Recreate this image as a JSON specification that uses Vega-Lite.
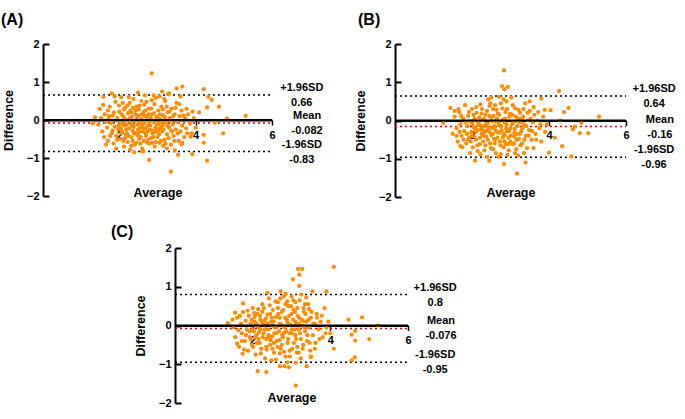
{
"$schema":"https://vega.github.io/schema/vega-lite/v6.json",
"background":"white",
"padding":{"left":1,"top":12,"right":0,"bottom":0},
"config":{
 "view":{"stroke":null},
 "font":"Liberation Sans",
 "axis":{"domainColor":"black","domainWidth":2,"tickColor":"black","labelFontWeight":"bold","labelFontSize":11,"labelColor":"black","titleFontWeight":"bold","titleFontSize":12.5,"titleColor":"black","grid":false,"labelFlush":false,"labelOverlap":false},
 "axisY":{"tickWidth":2,"titlePadding":11},
 "axisX":{"tickSize":5,"tickWidth":1.5,"labelPadding":4,"titlePadding":46},
 "text":{"fontWeight":"bold","fontSize":11,"align":"center","baseline":"middle","color":"black"},
 "title":{"fontSize":16,"fontWeight":"bold","color":"black","anchor":"start","frame":"group"}
},
"datasets":{
 "statsA":[{"stat":"+1.96SD","value":0.66,"text":"0.66"},{"stat":"Mean","value":-0.082,"text":"-0.082"},{"stat":"-1.96SD","value":-0.83,"text":"-0.83"}],
 "statsB":[{"stat":"+1.96SD","value":0.64,"text":"0.64"},{"stat":"Mean","value":-0.16,"text":"-0.16"},{"stat":"-1.96SD","value":-0.96,"text":"-0.96"}],
 "statsC":[{"stat":"+1.96SD","value":0.8,"text":"0.8"},{"stat":"Mean","value":-0.076,"text":"-0.076"},{"stat":"-1.96SD","value":-0.95,"text":"-0.95"}],
 "A":[
{"x":2.85,"y":1.23},{"x":3.65,"y":0.88},{"x":3.5,"y":0.83},{"x":4.21,"y":0.81},{"x":4.33,"y":0.61},{"x":4.42,"y":0.53},{"x":4.61,"y":0.35},{"x":4.3,"y":0.33},{"x":4.82,"y":0.04},{"x":5.31,"y":0.11},{"x":4.5,"y":-0.07},{"x":4.72,"y":-0.35},{"x":4.21,"y":-0.39},{"x":4.21,"y":-0.6},{"x":4.3,"y":-1.07},{"x":3.91,"y":-0.9},{"x":3.54,"y":-0.92},{"x":3.35,"y":-1.36},{"x":2.78,"y":-1.05},{"x":2.39,"y":-0.85},{"x":2.6,"y":-0.82},{"x":1.3,"y":-0.09},{"x":1.36,"y":0.07},{"x":1.49,"y":0.29},{"x":1.58,"y":0.61},{"x":1.8,"y":0.7},{"x":3.12,"y":0.75},{"x":3.28,"y":0.68},{"x":2.49,"y":0.72},{"x":4.09,"y":0.2},{"x":3.92,"y":0.22},{"x":3.76,"y":0.29},{"x":3.87,"y":-0.44},{"x":3.63,"y":-0.64},
{"x":1.45,"y":-0.12},{"x":1.52,"y":0.05},{"x":1.55,"y":-0.3},{"x":1.6,"y":-0.45},{"x":1.62,"y":0.15},{"x":1.68,"y":-0.2},{"x":1.7,"y":-0.55},{"x":1.72,"y":0.02},{"x":1.75,"y":0.35},{"x":1.78,"y":-0.08},
{"x":1.8,"y":-0.35},{"x":1.83,"y":0.12},{"x":1.85,"y":-0.62},{"x":1.88,"y":-0.18},{"x":1.9,"y":0.48},{"x":1.92,"y":-0.42},{"x":1.95,"y":0.05},{"x":1.97,"y":-0.25},{"x":2.0,"y":0.22},{"x":2.02,"y":-0.5},
{"x":2.03,"y":-0.05},{"x":2.05,"y":0.6},{"x":2.07,"y":-0.3},{"x":2.1,"y":0.1},{"x":2.12,"y":-0.7},{"x":2.13,"y":-0.15},{"x":2.15,"y":0.32},{"x":2.17,"y":-0.38},{"x":2.2,"y":0.0},{"x":2.22,"y":-0.58},
{"x":2.23,"y":0.18},{"x":2.25,"y":-0.22},{"x":2.27,"y":0.45},{"x":2.3,"y":-0.1},{"x":2.32,"y":-0.45},{"x":2.33,"y":0.08},{"x":2.35,"y":-0.28},{"x":2.37,"y":0.55},{"x":2.4,"y":-0.65},{"x":2.41,"y":-0.02},
{"x":2.43,"y":0.25},{"x":2.45,"y":-0.35},{"x":2.47,"y":-0.12},{"x":2.5,"y":0.12},{"x":2.52,"y":-0.5},{"x":2.53,"y":0.38},{"x":2.55,"y":-0.2},{"x":2.57,"y":0.02},{"x":2.6,"y":-0.75},{"x":2.62,"y":-0.3},
{"x":2.63,"y":0.2},{"x":2.65,"y":-0.08},{"x":2.67,"y":0.65},{"x":2.7,"y":-0.42},{"x":2.72,"y":0.1},{"x":2.73,"y":-0.6},{"x":2.75,"y":-0.15},{"x":2.77,"y":0.3},{"x":2.8,"y":-0.25},{"x":2.82,"y":0.05},
{"x":2.83,"y":-0.48},{"x":2.85,"y":0.15},{"x":2.87,"y":-0.35},{"x":2.9,"y":-0.05},{"x":2.92,"y":0.42},{"x":2.93,"y":-0.7},{"x":2.95,"y":-0.2},{"x":2.97,"y":0.08},{"x":3.0,"y":-0.45},{"x":3.02,"y":0.25},
{"x":3.03,"y":-0.1},{"x":3.05,"y":-0.6},{"x":3.07,"y":0.02},{"x":3.1,"y":0.35},{"x":3.12,"y":-0.3},{"x":3.13,"y":-0.15},{"x":3.15,"y":0.12},{"x":3.18,"y":-0.52},{"x":3.2,"y":0.5},{"x":3.22,"y":-0.05},
{"x":3.25,"y":-0.38},{"x":3.27,"y":0.2},{"x":3.3,"y":-0.2},{"x":3.32,"y":0.05},{"x":3.35,"y":-0.65},{"x":3.37,"y":0.3},{"x":3.4,"y":-0.12},{"x":3.42,"y":-0.42},{"x":3.45,"y":0.15},{"x":3.48,"y":-0.25},
{"x":3.5,"y":0.45},{"x":3.52,"y":-0.05},{"x":3.55,"y":-0.55},{"x":3.58,"y":0.1},{"x":3.6,"y":-0.3},{"x":3.63,"y":0.25},{"x":3.65,"y":-0.15},{"x":3.7,"y":-0.45},{"x":3.72,"y":0.05},{"x":3.75,"y":-0.22},
{"x":3.8,"y":0.15},{"x":3.85,"y":-0.1},{"x":3.9,"y":-0.35},{"x":3.95,"y":0.05},{"x":4.0,"y":-0.2},
{"x":1.98,"y":-0.15},{"x":2.08,"y":-0.1},{"x":2.18,"y":-0.25},{"x":2.28,"y":0.05},{"x":2.38,"y":-0.18},{"x":2.48,"y":-0.4},{"x":2.58,"y":-0.12},{"x":2.68,"y":-0.22},{"x":2.78,"y":-0.05},{"x":2.88,"y":-0.28},{"x":2.98,"y":-0.12},{"x":3.08,"y":-0.2},{"x":2.15,"y":-0.48},{"x":2.35,"y":-0.55},{"x":2.55,"y":-0.62},{"x":2.75,"y":-0.52},{"x":2.95,"y":-0.58},{"x":3.15,"y":-0.68},{"x":2.45,"y":0.35},{"x":2.65,"y":0.4},{"x":2.85,"y":0.52},{"x":2.25,"y":0.6},{"x":3.05,"y":0.62},{"x":1.88,"y":0.62},{"x":2.12,"y":0.28},{"x":1.65,"y":-0.65},{"x":1.92,"y":-0.75},{"x":2.28,"y":-0.78},{"x":2.62,"y":-0.82},{"x":3.25,"y":-0.75},{"x":3.45,"y":-0.8},{"x":3.6,"y":0.62},{"x":3.3,"y":0.7},{"x":2.05,"y":-0.35},{"x":2.42,"y":0.15},{"x":2.72,"y":0.0},{"x":3.22,"y":0.0},{"x":1.7,"y":0.25},{"x":1.58,"y":0.4},{"x":3.38,"y":-0.3},{"x":3.65,"y":-0.6},
{"x":1.82,"y":-0.28},{"x":1.86,"y":0.2},{"x":1.94,"y":-0.52},{"x":1.99,"y":0.38},{"x":2.04,"y":-0.22},{"x":2.09,"y":0.45},{"x":2.11,"y":-0.55},{"x":2.14,"y":0.02},{"x":2.19,"y":-0.12},{"x":2.21,"y":0.38},{"x":2.24,"y":-0.42},{"x":2.26,"y":-0.02},{"x":2.29,"y":0.25},{"x":2.31,"y":-0.68},{"x":2.34,"y":-0.15},{"x":2.36,"y":0.32},{"x":2.39,"y":-0.35},{"x":2.44,"y":-0.6},{"x":2.46,"y":0.05},{"x":2.49,"y":-0.25},{"x":2.51,"y":0.28},{"x":2.54,"y":-0.08},{"x":2.56,"y":-0.45},{"x":2.59,"y":0.15},{"x":2.61,"y":-0.2},{"x":2.64,"y":-0.55},{"x":2.66,"y":0.1},{"x":2.69,"y":-0.35},{"x":2.71,"y":0.48},{"x":2.74,"y":-0.3},{"x":2.76,"y":0.15},{"x":2.79,"y":-0.62},{"x":2.81,"y":-0.15},{"x":2.84,"y":0.3},{"x":2.86,"y":-0.02},{"x":2.89,"y":-0.45},{"x":2.91,"y":0.18},{"x":2.94,"y":-0.32},{"x":2.96,"y":0.58},{"x":2.99,"y":-0.25},{"x":3.01,"y":0.05},{"x":3.04,"y":-0.38},{"x":3.06,"y":0.15},{"x":3.09,"y":-0.55},{"x":3.11,"y":-0.05},{"x":3.14,"y":0.28},{"x":3.16,"y":-0.25},{"x":3.19,"y":0.08},{"x":3.21,"y":-0.62},{"x":3.24,"y":0.35},{"x":3.26,"y":-0.15},{"x":3.29,"y":-0.48},{"x":3.31,"y":0.22},{"x":3.34,"y":-0.02},{"x":3.36,"y":-0.28},{"x":3.41,"y":0.1},{"x":3.44,"y":-0.55},{"x":3.47,"y":0.32},{"x":3.53,"y":-0.35},{"x":3.57,"y":0.42},{"x":2.06,"y":0.15},{"x":2.16,"y":-0.02},{"x":2.32,"y":0.2},{"x":2.52,"y":-0.32},{"x":2.68,"y":0.25},{"x":2.86,"y":-0.6},{"x":3.02,"y":-0.28},{"x":1.76,"y":-0.42},{"x":1.73,"y":0.1},{"x":1.64,"y":-0.05},{"x":3.68,"y":0.12},{"x":3.78,"y":-0.35},{"x":2.2,"y":-0.35},{"x":2.58,"y":0.5},{"x":2.9,"y":0.65},{"x":3.18,"y":0.55}
 ],
 "B":[
{"x":2.83,"y":1.31},{"x":2.78,"y":0.9},{"x":2.84,"y":0.82},{"x":2.93,"y":0.88},{"x":4.26,"y":0.77},{"x":4.51,"y":0.33},{"x":4.39,"y":0.22},{"x":5.3,"y":0.1},{"x":4.29,"y":0.0},{"x":4.84,"y":-0.06},{"x":4.67,"y":-0.16},{"x":4.62,"y":-0.23},{"x":4.8,"y":-0.33},{"x":5.02,"y":-0.33},{"x":4.15,"y":-0.45},{"x":4.34,"y":-0.67},{"x":4.0,"y":-0.84},{"x":4.58,"y":-0.94},{"x":3.8,"y":0.57},{"x":4.04,"y":0.27},{"x":3.89,"y":0.28},{"x":3.17,"y":-1.39},{"x":3.39,"y":-1.1},{"x":2.83,"y":-1.14},{"x":2.45,"y":-1.05},{"x":2.08,"y":-1.05},{"x":1.25,"y":-0.06},{"x":1.44,"y":0.33},{"x":1.55,"y":0.25},{"x":1.7,"y":-0.67},{"x":1.6,"y":-0.4},
{"x":1.5,"y":-0.35},{"x":1.55,"y":0.1},{"x":1.6,"y":-0.2},{"x":1.63,"y":-0.55},{"x":1.67,"y":0.22},{"x":1.7,"y":-0.1},{"x":1.73,"y":-0.4},{"x":1.77,"y":0.05},{"x":1.8,"y":-0.28},{"x":1.82,"y":0.4},
{"x":1.85,"y":-0.6},{"x":1.88,"y":-0.15},{"x":1.9,"y":0.12},{"x":1.93,"y":-0.45},{"x":1.95,"y":-0.02},{"x":1.98,"y":-0.3},{"x":2.0,"y":0.3},{"x":2.02,"y":-0.7},{"x":2.05,"y":-0.18},{"x":2.07,"y":0.05},
{"x":2.1,"y":-0.5},{"x":2.12,"y":0.2},{"x":2.15,"y":-0.25},{"x":2.17,"y":-0.05},{"x":2.2,"y":-0.62},{"x":2.22,"y":0.42},{"x":2.25,"y":-0.35},{"x":2.27,"y":0.0},{"x":2.3,"y":-0.15},{"x":2.32,"y":-0.78},
{"x":2.35,"y":0.15},{"x":2.37,"y":-0.42},{"x":2.4,"y":-0.08},{"x":2.42,"y":0.55},{"x":2.45,"y":-0.3},{"x":2.47,"y":-0.6},{"x":2.5,"y":0.08},{"x":2.52,"y":-0.2},{"x":2.55,"y":0.3},{"x":2.57,"y":-0.48},
{"x":2.6,"y":-0.02},{"x":2.62,"y":-0.85},{"x":2.65,"y":-0.3},{"x":2.67,"y":0.18},{"x":2.7,"y":-0.12},{"x":2.72,"y":-0.55},{"x":2.75,"y":0.45},{"x":2.77,"y":-0.25},{"x":2.8,"y":0.02},{"x":2.82,"y":-0.7},
{"x":2.85,"y":-0.38},{"x":2.87,"y":0.22},{"x":2.9,"y":-0.1},{"x":2.92,"y":-0.9},{"x":2.95,"y":-0.45},{"x":2.97,"y":0.1},{"x":3.0,"y":-0.2},{"x":3.02,"y":0.6},{"x":3.05,"y":-0.62},{"x":3.07,"y":-0.05},
{"x":3.1,"y":-0.32},{"x":3.12,"y":0.32},{"x":3.15,"y":-0.75},{"x":3.18,"y":-0.15},{"x":3.2,"y":0.05},{"x":3.22,"y":-0.48},{"x":3.25,"y":0.2},{"x":3.28,"y":-0.28},{"x":3.3,"y":-0.6},{"x":3.33,"y":0.1},
{"x":3.35,"y":-0.1},{"x":3.38,"y":0.45},{"x":3.4,"y":-0.4},{"x":3.43,"y":-0.72},{"x":3.45,"y":0.0},{"x":3.48,"y":-0.25},{"x":3.5,"y":0.25},{"x":3.55,"y":-0.5},{"x":3.58,"y":-0.05},{"x":3.62,"y":0.15},
{"x":3.65,"y":-0.35},{"x":3.7,"y":0.0},{"x":3.75,"y":-0.2},{"x":3.8,"y":-0.55},{"x":3.85,"y":0.1},{"x":3.9,"y":-0.3},{"x":3.95,"y":-0.1},
{"x":2.0,"y":-0.4},{"x":2.1,"y":-0.3},{"x":2.2,"y":-0.12},{"x":2.3,"y":-0.4},{"x":2.4,"y":-0.25},{"x":2.5,"y":-0.38},{"x":2.6,"y":-0.5},{"x":2.7,"y":-0.32},{"x":2.8,"y":-0.45},{"x":2.9,"y":-0.28},{"x":3.0,"y":-0.55},{"x":3.1,"y":-0.42},{"x":2.05,"y":0.0},{"x":2.25,"y":0.18},{"x":2.45,"y":0.12},{"x":2.65,"y":0.05},{"x":2.85,"y":-0.05},{"x":3.05,"y":0.15},{"x":3.25,"y":-0.05},{"x":2.15,"y":-0.8},{"x":2.4,"y":-0.95},{"x":2.55,"y":-0.75},{"x":2.75,"y":-0.88},{"x":2.95,"y":-0.78},{"x":3.2,"y":-0.92},{"x":3.35,"y":-0.85},{"x":2.5,"y":0.6},{"x":2.7,"y":0.62},{"x":2.6,"y":0.4},{"x":2.9,"y":0.5},{"x":1.75,"y":-0.7},{"x":1.95,"y":-0.85},{"x":2.35,"y":-0.65},{"x":3.6,"y":-0.72},{"x":3.5,"y":0.5},{"x":1.65,"y":0.3},{"x":2.28,"y":-0.25},{"x":2.58,"y":-0.15},{"x":2.88,"y":-0.62},{"x":3.15,"y":-0.35},{"x":1.9,"y":-0.5},
{"x":1.83,"y":-0.05},{"x":1.87,"y":-0.35},{"x":1.92,"y":0.22},{"x":1.97,"y":-0.55},{"x":2.01,"y":-0.1},{"x":2.04,"y":0.15},{"x":2.06,"y":-0.42},{"x":2.09,"y":-0.2},{"x":2.11,"y":0.35},{"x":2.14,"y":-0.65},{"x":2.16,"y":-0.12},{"x":2.19,"y":0.08},{"x":2.21,"y":-0.45},{"x":2.24,"y":-0.22},{"x":2.26,"y":0.3},{"x":2.29,"y":-0.55},{"x":2.31,"y":0.05},{"x":2.34,"y":-0.3},{"x":2.36,"y":-0.1},{"x":2.39,"y":0.25},{"x":2.41,"y":-0.5},{"x":2.44,"y":-0.18},{"x":2.46,"y":0.38},{"x":2.49,"y":-0.72},{"x":2.51,"y":-0.02},{"x":2.54,"y":-0.35},{"x":2.56,"y":0.12},{"x":2.59,"y":-0.6},{"x":2.61,"y":-0.25},{"x":2.64,"y":0.28},{"x":2.66,"y":-0.45},{"x":2.69,"y":-0.05},{"x":2.71,"y":0.15},{"x":2.74,"y":-0.65},{"x":2.76,"y":-0.15},{"x":2.79,"y":0.32},{"x":2.81,"y":-0.35},{"x":2.84,"y":-0.55},{"x":2.86,"y":0.05},{"x":2.89,"y":-0.2},{"x":2.91,"y":0.3},{"x":2.94,"y":-0.62},{"x":2.96,"y":-0.28},{"x":2.99,"y":0.18},{"x":3.01,"y":-0.4},{"x":3.04,"y":-0.1},{"x":3.06,"y":0.4},{"x":3.09,"y":-0.6},{"x":3.11,"y":-0.22},{"x":3.14,"y":0.1},{"x":3.16,"y":-0.5},{"x":3.19,"y":-0.02},{"x":3.21,"y":0.28},{"x":3.24,"y":-0.35},{"x":3.26,"y":-0.65},{"x":3.29,"y":0.05},{"x":3.31,"y":-0.2},{"x":3.34,"y":0.3},{"x":3.36,"y":-0.5},{"x":3.41,"y":-0.15},{"x":3.44,"y":0.2},{"x":3.47,"y":-0.4},{"x":3.52,"y":0.05},{"x":3.56,"y":-0.28},{"x":3.6,"y":0.35},{"x":3.67,"y":-0.5},{"x":3.72,"y":0.22},{"x":3.78,"y":-0.1},{"x":1.78,"y":-0.5},{"x":1.72,"y":0.12},{"x":1.68,"y":-0.3},{"x":2.22,"y":-0.88},{"x":2.68,"y":-0.95},{"x":3.12,"y":-0.85},{"x":2.48,"y":0.45},{"x":2.82,"y":0.55}
 ],
 "C":[
{"x":4.09,"y":1.51},{"x":3.17,"y":1.46},{"x":3.28,"y":1.46},{"x":3.2,"y":1.31},{"x":3.04,"y":1.19},{"x":3.2,"y":1.02},{"x":3.54,"y":0.88},{"x":3.9,"y":0.88},{"x":2.72,"y":0.88},{"x":2.38,"y":0.85},{"x":4.82,"y":0.21},{"x":4.47,"y":0.15},{"x":5.23,"y":0.0},{"x":4.64,"y":-0.14},{"x":4.55,"y":-0.24},{"x":4.64,"y":-0.39},{"x":5.0,"y":-0.35},{"x":4.09,"y":-0.6},{"x":4.63,"y":-0.82},{"x":4.55,"y":-0.9},{"x":3.5,"y":-0.81},{"x":3.39,"y":-1.05},{"x":3.11,"y":-0.96},{"x":2.7,"y":-1.05},{"x":2.82,"y":-1.05},{"x":2.93,"y":-1.08},{"x":2.35,"y":-1.2},{"x":2.13,"y":-1.18},{"x":3.11,"y":-1.55},{"x":1.36,"y":0.06},{"x":1.48,"y":0.15},{"x":1.6,"y":-0.47},{"x":1.74,"y":-0.73},{"x":1.75,"y":0.57},{"x":1.55,"y":0.33},
{"x":1.5,"y":-0.05},{"x":1.55,"y":-0.3},{"x":1.6,"y":0.2},{"x":1.65,"y":-0.55},{"x":1.7,"y":0.05},{"x":1.72,"y":-0.2},{"x":1.75,"y":0.35},{"x":1.8,"y":-0.4},{"x":1.82,"y":0.12},{"x":1.85,"y":-0.1},
{"x":1.88,"y":-0.65},{"x":1.9,"y":0.25},{"x":1.93,"y":-0.3},{"x":1.95,"y":0.05},{"x":1.98,"y":-0.5},{"x":2.0,"y":0.45},{"x":2.03,"y":-0.15},{"x":2.05,"y":0.1},{"x":2.08,"y":-0.75},{"x":2.1,"y":-0.25},
{"x":2.12,"y":0.3},{"x":2.15,"y":-0.05},{"x":2.18,"y":-0.45},{"x":2.2,"y":0.15},{"x":2.22,"y":-0.6},{"x":2.25,"y":0.55},{"x":2.28,"y":-0.2},{"x":2.3,"y":0.02},{"x":2.32,"y":-0.85},{"x":2.35,"y":-0.35},
{"x":2.38,"y":0.28},{"x":2.4,"y":-0.1},{"x":2.42,"y":0.7},{"x":2.45,"y":-0.5},{"x":2.48,"y":0.1},{"x":2.5,"y":-0.28},{"x":2.52,"y":0.4},{"x":2.55,"y":-0.7},{"x":2.57,"y":-0.05},{"x":2.6,"y":0.22},
{"x":2.62,"y":-0.4},{"x":2.65,"y":0.6},{"x":2.68,"y":-0.15},{"x":2.7,"y":0.05},{"x":2.72,"y":-0.6},{"x":2.75,"y":0.35},{"x":2.78,"y":-0.3},{"x":2.8,"y":0.75},{"x":2.82,"y":-0.05},{"x":2.85,"y":-0.8},
{"x":2.88,"y":0.15},{"x":2.9,"y":-0.45},{"x":2.92,"y":0.5},{"x":2.95,"y":-0.2},{"x":2.98,"y":0.02},{"x":3.0,"y":0.3},{"x":3.02,"y":-0.6},{"x":3.05,"y":0.65},{"x":3.08,"y":-0.1},{"x":3.1,"y":0.1},
{"x":3.12,"y":-0.35},{"x":3.15,"y":0.45},{"x":3.18,"y":-0.7},{"x":3.2,"y":0.2},{"x":3.22,"y":-0.2},{"x":3.25,"y":0.8},{"x":3.28,"y":0.0},{"x":3.3,"y":-0.5},{"x":3.32,"y":0.35},{"x":3.35,"y":-0.15},
{"x":3.38,"y":0.1},{"x":3.4,"y":-0.4},{"x":3.43,"y":0.55},{"x":3.45,"y":-0.05},{"x":3.48,"y":-0.65},{"x":3.5,"y":0.2},{"x":3.55,"y":-0.25},{"x":3.6,"y":0.05},{"x":3.62,"y":-0.45},{"x":3.65,"y":0.3},
{"x":3.7,"y":-0.1},{"x":3.75,"y":0.1},{"x":3.8,"y":-0.3},{"x":3.85,"y":0.45},{"x":3.9,"y":-0.05},{"x":3.95,"y":0.1},{"x":4.0,"y":-0.2},
{"x":2.0,"y":-0.1},{"x":2.1,"y":0.05},{"x":2.2,"y":-0.1},{"x":2.3,"y":0.12},{"x":2.4,"y":-0.3},{"x":2.5,"y":0.0},{"x":2.6,"y":-0.2},{"x":2.7,"y":0.2},{"x":2.8,"y":-0.2},{"x":2.9,"y":0.08},{"x":3.0,"y":-0.1},{"x":3.1,"y":-0.25},{"x":3.2,"y":0.05},{"x":3.3,"y":0.12},{"x":2.15,"y":-0.35},{"x":2.35,"y":-0.55},{"x":2.55,"y":-0.45},{"x":2.75,"y":-0.5},{"x":2.95,"y":-0.65},{"x":3.15,"y":-0.55},{"x":2.25,"y":0.35},{"x":2.45,"y":0.3},{"x":2.65,"y":0.45},{"x":2.85,"y":0.55},{"x":3.05,"y":0.4},{"x":1.78,"y":-0.62},{"x":2.6,"y":-0.88},{"x":2.9,"y":-0.95},{"x":3.1,"y":0.6},{"x":3.35,"y":0.55},{"x":3.5,"y":-0.8},{"x":2.05,"y":0.22},{"x":2.7,"y":-0.72},{"x":3.0,"y":0.75},{"x":3.45,"y":0.42},{"x":1.95,"y":-0.35},
{"x":1.83,"y":-0.25},{"x":1.87,"y":0.38},{"x":1.92,"y":-0.15},{"x":1.97,"y":0.15},{"x":2.01,"y":-0.55},{"x":2.04,"y":0.32},{"x":2.06,"y":-0.3},{"x":2.09,"y":0.0},{"x":2.11,"y":-0.45},{"x":2.14,"y":0.42},{"x":2.16,"y":-0.18},{"x":2.19,"y":0.25},{"x":2.21,"y":-0.72},{"x":2.24,"y":0.08},{"x":2.26,"y":-0.3},{"x":2.29,"y":0.45},{"x":2.31,"y":-0.1},{"x":2.34,"y":0.18},{"x":2.36,"y":-0.62},{"x":2.39,"y":0.05},{"x":2.41,"y":-0.25},{"x":2.44,"y":0.52},{"x":2.46,"y":-0.38},{"x":2.49,"y":0.2},{"x":2.51,"y":-0.6},{"x":2.54,"y":0.1},{"x":2.56,"y":-0.2},{"x":2.59,"y":0.62},{"x":2.61,"y":-0.05},{"x":2.64,"y":-0.55},{"x":2.66,"y":0.3},{"x":2.69,"y":-0.38},{"x":2.71,"y":0.7},{"x":2.74,"y":0.02},{"x":2.76,"y":-0.25},{"x":2.79,"y":0.4},{"x":2.81,"y":-0.68},{"x":2.84,"y":0.2},{"x":2.86,"y":-0.15},{"x":2.89,"y":0.62},{"x":2.91,"y":-0.35},{"x":2.94,"y":0.25},{"x":2.96,"y":-0.8},{"x":2.99,"y":0.5},{"x":3.01,"y":-0.2},{"x":3.04,"y":0.15},{"x":3.06,"y":-0.45},{"x":3.09,"y":0.35},{"x":3.11,"y":0.02},{"x":3.14,"y":-0.7},{"x":3.16,"y":0.25},{"x":3.19,"y":-0.1},{"x":3.21,"y":0.65},{"x":3.24,"y":-0.35},{"x":3.26,"y":0.15},{"x":3.29,"y":-0.6},{"x":3.31,"y":0.45},{"x":3.34,"y":-0.05},{"x":3.36,"y":0.3},{"x":3.41,"y":-0.25},{"x":3.44,"y":0.15},{"x":3.47,"y":-0.45},{"x":3.52,"y":0.35},{"x":3.56,"y":0.05},{"x":3.6,"y":-0.6},{"x":3.66,"y":0.2},{"x":3.72,"y":-0.35},{"x":3.78,"y":0.25},{"x":3.88,"y":-0.2},{"x":1.72,"y":-0.4},{"x":1.67,"y":0.25},{"x":1.63,"y":-0.12},{"x":2.48,"y":-0.9},{"x":3.24,"y":-0.85},{"x":2.85,"y":0.82},{"x":3.38,"y":0.72}
 ]
},
"spacing":22,
"vconcat":[
 {"hconcat":[
  {"width":229,"height":152,
   "title":{"text":"(A)","dx":-42,"offset":10},
   "layer":[
    {"data":{"name":"statsA"},"mark":{"type":"rule","strokeDash":[2,3],"strokeWidth":1.5},
     "encoding":{
      "x":{"datum":0,"type":"quantitative","scale":{"domain":[0,6],"nice":false,"zero":false},"axis":{"title":"Average","values":[2,4,6],"offset":-76}},
      "x2":{"datum":6},
      "y":{"field":"value","type":"quantitative","scale":{"domain":[-2,2],"nice":false},"axis":{"title":"Difference","tickCount":4,"tickSize":-6,"labelPadding":10}},
      "color":{"field":"stat","type":"nominal","scale":{"domain":["+1.96SD","Mean","-1.96SD"],"range":["black","#cc0000","black"]},"legend":null}}},
    {"data":{"name":"A"},"mark":{"type":"circle","size":18,"opacity":1,"color":"#ff8c00"},"encoding":{"x":{"field":"x","type":"quantitative"},"y":{"field":"y","type":"quantitative"}}},
    {"data":{"values":[{}]},"mark":{"type":"rule","strokeWidth":2,"color":"black"},"encoding":{"x":{"datum":0},"x2":{"datum":6},"y":{"datum":0}}},
    {"data":{"name":"statsA"},"transform":[{"filter":"datum.stat != 'Mean'"}],"mark":{"type":"text","dy":-7},"encoding":{"x":{"datum":6.78},"y":{"field":"value","type":"quantitative"},"text":{"field":"stat"}}},
    {"data":{"name":"statsA"},"transform":[{"filter":"datum.stat != 'Mean'"}],"mark":{"type":"text","dy":8},"encoding":{"x":{"datum":6.78},"y":{"field":"value","type":"quantitative"},"text":{"field":"text"}}},
    {"data":{"name":"statsA"},"transform":[{"filter":"datum.stat == 'Mean'"}],"mark":{"type":"text","dy":-7},"encoding":{"x":{"datum":6.92},"y":{"field":"value","type":"quantitative"},"text":{"field":"stat"}}},
    {"data":{"name":"statsA"},"transform":[{"filter":"datum.stat == 'Mean'"}],"mark":{"type":"text","dy":8},"encoding":{"x":{"datum":6.92},"y":{"field":"value","type":"quantitative"},"text":{"field":"text"}}}
   ]},
  {"width":231,"height":153,
   "title":{"text":"(B)","dx":-37,"offset":10},
   "layer":[
    {"data":{"name":"statsB"},"mark":{"type":"rule","strokeDash":[2,3],"strokeWidth":1.5},
     "encoding":{
      "x":{"datum":0,"type":"quantitative","scale":{"domain":[0,6],"nice":false,"zero":false},"axis":{"title":"Average","values":[2,4,6],"offset":-76.5}},
      "x2":{"datum":6},
      "y":{"field":"value","type":"quantitative","scale":{"domain":[-2,2],"nice":false},"axis":{"title":"Difference","tickCount":4,"tickSize":-6,"labelPadding":10}},
      "color":{"field":"stat","type":"nominal","scale":{"domain":["+1.96SD","Mean","-1.96SD"],"range":["black","#cc0000","black"]},"legend":null}}},
    {"data":{"name":"B"},"mark":{"type":"circle","size":18,"opacity":1,"color":"#ff8c00"},"encoding":{"x":{"field":"x","type":"quantitative"},"y":{"field":"y","type":"quantitative"}}},
    {"data":{"values":[{}]},"mark":{"type":"rule","strokeWidth":2,"color":"black"},"encoding":{"x":{"datum":0},"x2":{"datum":6},"y":{"datum":0}}},
    {"data":{"name":"statsB"},"transform":[{"filter":"datum.stat != 'Mean'"}],"mark":{"type":"text","dy":-7},"encoding":{"x":{"datum":6.73},"y":{"field":"value","type":"quantitative"},"text":{"field":"stat"}}},
    {"data":{"name":"statsB"},"transform":[{"filter":"datum.stat != 'Mean'"}],"mark":{"type":"text","dy":8},"encoding":{"x":{"datum":6.73},"y":{"field":"value","type":"quantitative"},"text":{"field":"text"}}},
    {"data":{"name":"statsB"},"transform":[{"filter":"datum.stat == 'Mean'"}],"mark":{"type":"text","dy":-7},"encoding":{"x":{"datum":6.88},"y":{"field":"value","type":"quantitative"},"text":{"field":"stat"}}},
    {"data":{"name":"statsB"},"transform":[{"filter":"datum.stat == 'Mean'"}],"mark":{"type":"text","dy":8},"encoding":{"x":{"datum":6.88},"y":{"field":"value","type":"quantitative"},"text":{"field":"text"}}}
   ]}
 ],"spacing":30},
 {"hconcat":[
  {"width":68,"height":10,"data":{"values":[{}]},"mark":{"type":"text"},"encoding":{"text":{"value":""}}},
  {"width":233,"height":155,
   "title":{"text":"(C)","dx":-64,"offset":2},
   "layer":[
    {"data":{"name":"statsC"},"mark":{"type":"rule","strokeDash":[2,3],"strokeWidth":1.5},
     "encoding":{
      "x":{"datum":0,"type":"quantitative","scale":{"domain":[0,6],"nice":false,"zero":false},"axis":{"title":"Average","values":[2,4,6],"offset":-77.5}},
      "x2":{"datum":6},
      "y":{"field":"value","type":"quantitative","scale":{"domain":[-2,2],"nice":false},"axis":{"title":"Difference","tickCount":4,"tickSize":-6,"labelPadding":10}},
      "color":{"field":"stat","type":"nominal","scale":{"domain":["+1.96SD","Mean","-1.96SD"],"range":["black","#cc0000","black"]},"legend":null}}},
    {"data":{"name":"C"},"mark":{"type":"circle","size":18,"opacity":1,"color":"#ff8c00"},"encoding":{"x":{"field":"x","type":"quantitative"},"y":{"field":"y","type":"quantitative"}}},
    {"data":{"values":[{}]},"mark":{"type":"rule","strokeWidth":2,"color":"black"},"encoding":{"x":{"datum":0},"x2":{"datum":6},"y":{"datum":0}}},
    {"data":{"name":"statsC"},"transform":[{"filter":"datum.stat != 'Mean'"}],"mark":{"type":"text","dy":-7},"encoding":{"x":{"datum":6.7},"y":{"field":"value","type":"quantitative"},"text":{"field":"stat"}}},
    {"data":{"name":"statsC"},"transform":[{"filter":"datum.stat != 'Mean'"}],"mark":{"type":"text","dy":8},"encoding":{"x":{"datum":6.7},"y":{"field":"value","type":"quantitative"},"text":{"field":"text"}}},
    {"data":{"name":"statsC"},"transform":[{"filter":"datum.stat == 'Mean'"}],"mark":{"type":"text","dy":-7},"encoding":{"x":{"datum":6.85},"y":{"field":"value","type":"quantitative"},"text":{"field":"stat"}}},
    {"data":{"name":"statsC"},"transform":[{"filter":"datum.stat == 'Mean'"}],"mark":{"type":"text","dy":8},"encoding":{"x":{"datum":6.85},"y":{"field":"value","type":"quantitative"},"text":{"field":"text"}}}
   ]}
 ],"spacing":0}
]
}
